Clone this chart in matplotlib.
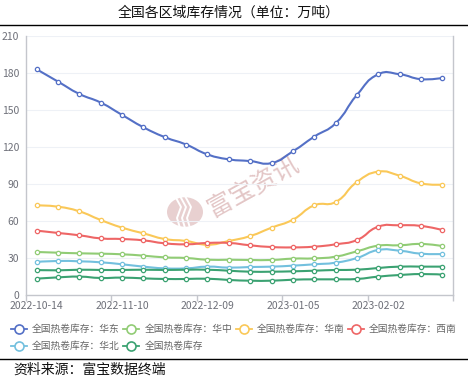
import numpy as np
import matplotlib
matplotlib.use('Agg')
import matplotlib.pyplot as plt
from matplotlib.path import Path
from matplotlib.patches import PathPatch, Circle
from matplotlib.lines import Line2D

plt.rcParams['font.family'] = ['Noto Sans CJK SC', 'DejaVu Sans']

W, H = 468, 383

dates = ['2022-10-14', '2022-10-21', '2022-10-28', '2022-11-04', '2022-11-10',
         '2022-11-17', '2022-11-24', '2022-12-01', '2022-12-09', '2022-12-15',
         '2022-12-22', '2022-12-29', '2023-01-05', '2023-01-12', '2023-01-19',
         '2023-01-29', '2023-02-02', '2023-02-09', '2023-02-16', '2023-02-23']

huadong = [183, 173, 163, 156, 146, 136, 128, 122, 114, 110,
           108.6, 107, 116.5, 128.4, 139.2, 162.2, 179, 179, 175, 176]
huazhong = [34.9, 34.3, 33.8, 33.5, 33.0, 31.9, 30.5, 30.0, 28.6, 28.6,
            28.4, 28.4, 29.5, 29.7, 31.1, 35.4, 40.0, 40.3, 41.4, 39.7]
huanan = [72.7, 71.6, 67.8, 60.8, 54.6, 50.0, 45.4, 43.8, 40.8, 43.8,
          47.8, 54.6, 61.1, 72.7, 75.4, 91.6, 100.0, 96.7, 90.5, 89.5]
xinan = [52.2, 50.3, 48.4, 45.9, 45.4, 44.3, 41.9, 41.1, 42.2, 42.2,
         40.3, 38.9, 38.6, 39.2, 41.1, 44.6, 55.4, 56.5, 56.0, 52.7]
huabei = [26.8, 27.6, 27.3, 26.5, 24.9, 23.0, 21.6, 21.6, 23.0, 22.2,
          22.7, 23.0, 23.8, 24.9, 26.2, 30.0, 36.5, 35.9, 33.5, 33.2]
quanguo_a = [20.3, 20.0, 20.5, 20.3, 20.3, 20.5, 20.3, 20.5, 20.5, 19.7,
             18.9, 18.9, 19.2, 19.7, 20.3, 20.5, 21.9, 23.0, 23.0, 23.0]
quanguo_b = [13.2, 14.3, 14.9, 13.8, 14.1, 13.5, 13.0, 13.0, 13.2, 12.2,
             11.6, 11.6, 12.4, 12.7, 12.7, 13.0, 14.9, 16.2, 17.0, 16.5]

series = [
    ('全国热卷库存：华东', huadong, '#5470c6'),
    ('全国热卷库存：华中', huazhong, '#91cc75'),
    ('全国热卷库存：华南', huanan, '#fac858'),
    ('全国热卷库存：西南', xinan, '#ee6666'),
    ('全国热卷库存：华北', huabei, '#73c0de'),
    ('全国热卷库存', quanguo_a, '#3ba272'),
    ('全国热卷库存', quanguo_b, '#3ba272'),
]

fig = plt.figure(figsize=(W / 100, H / 100), dpi=100)
left, right, top, bottom = 26, 453, 36, 295
ax = fig.add_axes([left / W, 1 - bottom / H, (right - left) / W, (bottom - top) / H])
ax.patch.set_alpha(0)

n = len(dates)
x = np.arange(n)
ax.set_xlim(-0.5, n - 0.5)
ax.set_ylim(0, 210)

sx = (right - left) / n
sy = (bottom - top) / 210.0


def smooth_path(xs, ys, smooth=0.5):
    pts = np.column_stack([xs, ys]).astype(float)
    m = len(pts)
    cps_in = [None] * m
    cps_out = [None] * m
    for i in range(m):
        p = pts[i]
        if i == 0 or i == m - 1:
            cps_in[i] = p.copy()
            cps_out[i] = p.copy()
            continue
        prev, nxt = pts[i - 1], pts[i + 1]
        v = nxt - prev
        d0 = np.hypot((p[0] - prev[0]) * sx, (p[1] - prev[1]) * sy)
        d1 = np.hypot((nxt[0] - p[0]) * sx, (nxt[1] - p[1]) * sy)
        ratio = d1 / (d0 + d1) if d0 + d1 > 0 else 0.5
        cps_in[i] = p - v * smooth * (1 - ratio)
        cps_out[i] = p + v * smooth * ratio
    verts = [tuple(pts[0])]
    codes = [Path.MOVETO]
    for i in range(m - 1):
        verts += [tuple(cps_out[i]), tuple(cps_in[i + 1]), tuple(pts[i + 1])]
        codes += [Path.CURVE4] * 3
    return Path(verts, codes)


for k, (name, vals, col) in enumerate(series):
    path = smooth_path(x, vals)
    ax.add_patch(PathPatch(path, fill=False, edgecolor=col, lw=1.5,
                           capstyle='round', joinstyle='round', zorder=3 + k * 0.01))
    ax.plot(x, vals, 'o', ls='none', ms=3.1, mfc='white', mec=col, mew=0.9,
            zorder=4)

# grid & axes styling
ax.set_yticks(np.arange(0, 211, 30))
ax.yaxis.grid(True, color='#eef1f6', lw=0.8)
ax.set_axisbelow(True)
ax.tick_params(axis='y', length=0, pad=5, labelsize=7.5, labelcolor='#6e7079')
ax.spines['top'].set_visible(False)
for s in ['left', 'right', 'bottom']:
    ax.spines[s].set_color('#c4c6cc')
    ax.spines[s].set_linewidth(1.0)

major = np.arange(-0.5, n, 4)
ax.set_xticks(major)
ax.set_xticklabels([''] * len(major))
ax.tick_params(axis='x', which='major', length=4, color='#c4c6cc', width=1)
label_pos = list(range(0, n, 4))
ax.set_xticks(label_pos, minor=True)
ax.set_xticklabels([dates[i] for i in label_pos], minor=True)
ax.tick_params(axis='x', which='minor', length=0, pad=4.5, labelsize=7.5,
               labelcolor='#6e7079')

# watermark (behind the plot)
fig.text(253 / W, 1 - 186 / H, '富宝资讯', fontsize=18, color='#e3c6c6',
         rotation=29, ha='center', va='center', zorder=-2)
logo = Circle((185 / W, 1 - 212 / H), 18 / W, transform=fig.transFigure,
              facecolor='#e8d0d0', edgecolor='none', zorder=-3)
fig.patches.append(logo)
for dx in (-6, -1, 4):
    fig.add_artist(Line2D([(181 + dx) / W, (187 + dx) / W, (183 + dx) / W, (186 + dx) / W],
                          [1 - 196 / H, 1 - 207 / H, 1 - 218 / H, 1 - 228 / H],
                          transform=fig.transFigure, color='white', lw=1.4,
                          zorder=-2.5))

# title and rules
fig.text(229 / W, 1 - 13 / H, '全国各区域库存情况（单位：万吨）', fontsize=10,
         ha='center', va='center', color='#111111')
fig.add_artist(Line2D([0, 1], [1 - 25 / H, 1 - 25 / H], transform=fig.transFigure,
                      color='black', lw=1.0))
fig.add_artist(Line2D([0, 1], [1 - 359 / H, 1 - 359 / H], transform=fig.transFigure,
                      color='black', lw=1.0))
fig.text(13 / W, 1 - 370 / H, '资料来源：富宝数据终端', fontsize=10,
         ha='left', va='center', color='#111111')

# legend (unique names)
seen = []
leg = []
for name, vals, col in series:
    if name not in seen:
        seen.append(name)
        leg.append((name, col))
for i, (name, col) in enumerate(leg):
    row, colno = divmod(i, 4)
    x0 = 11 + colno * 112.3
    y0 = 329 + row * 17
    fig.add_artist(Line2D([x0 / W, (x0 + 16) / W], [1 - y0 / H, 1 - y0 / H],
                          transform=fig.transFigure, color=col, lw=1.3))
    fig.add_artist(Line2D([(x0 + 8) / W], [1 - y0 / H], transform=fig.transFigure,
                          marker='o', ms=6.5, mfc='white', mec=col, mew=1.2,
                          ls='none'))
    fig.text((x0 + 21) / W, 1 - y0 / H, name, fontsize=7, color='#666666',
             ha='left', va='center')

fig.savefig('out.png', dpi=100)
